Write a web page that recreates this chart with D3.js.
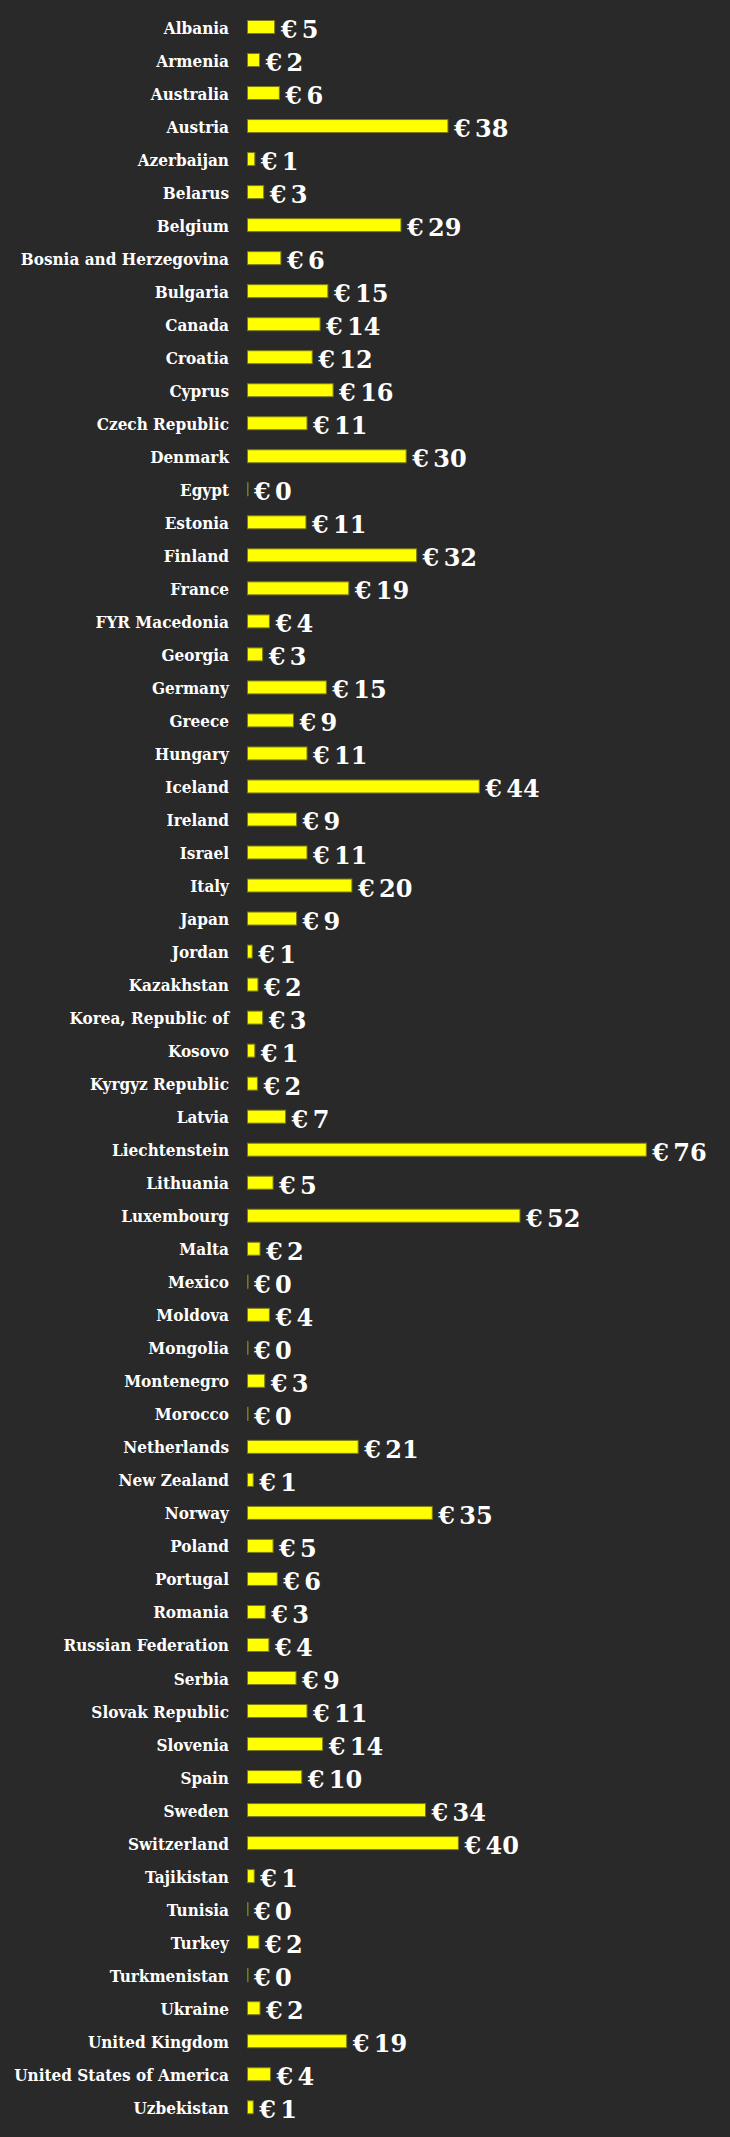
<!DOCTYPE html>
<html lang="en">

<head>
    <meta charset="UTF-8">
    <title>Cost per country</title>
    <script src="https://d3js.org/d3.v7.min.js"></script>
    <style>
        html, body {
            margin: 0;
            padding: 0;
            background-color: #292929;
        }

        .country {
            font-family: 'DejaVu Serif Condensed', 'DejaVu Serif', serif;
            font-weight: bold;
            font-size: 17px;
            fill: #ffffff;
        }

        .value {
            font-family: 'DejaVu Serif', serif;
            font-weight: bold;
            font-size: 24px;
            fill: #ffffff;
            word-spacing: -4px;
        }
    </style>
</head>

<body>
    <div id="chart"></div>

    <script>
        // countries, top to bottom
        const countries = [
            'Albania', 'Armenia', 'Australia', 'Austria', 'Azerbaijan', 'Belarus', 'Belgium',
            'Bosnia and Herzegovina', 'Bulgaria', 'Canada', 'Croatia', 'Cyprus', 'Czech Republic',
            'Denmark', 'Egypt', 'Estonia', 'Finland', 'France', 'FYR Macedonia', 'Georgia',
            'Germany', 'Greece', 'Hungary', 'Iceland', 'Ireland', 'Israel', 'Italy', 'Japan',
            'Jordan', 'Kazakhstan', 'Korea, Republic of', 'Kosovo', 'Kyrgyz Republic', 'Latvia',
            'Liechtenstein', 'Lithuania', 'Luxembourg', 'Malta', 'Mexico', 'Moldova', 'Mongolia',
            'Montenegro', 'Morocco', 'Netherlands', 'New Zealand', 'Norway', 'Poland', 'Portugal',
            'Romania', 'Russian Federation', 'Serbia', 'Slovak Republic', 'Slovenia', 'Spain',
            'Sweden', 'Switzerland', 'Tajikistan', 'Tunisia', 'Turkey', 'Turkmenistan', 'Ukraine',
            'United Kingdom', 'United States of America', 'Uzbekistan'
        ];

        // euros (labels show them rounded)
        const values = [
            5.2, 2.3, 6.1, 38.4, 1.4, 3.1, 29.4,
            6.4, 15.4, 13.9, 12.4, 16.4, 11.4,
            30.4, 0.1, 11.2, 32.4, 19.4, 4.2, 2.9,
            15.1, 8.8, 11.4, 44.4, 9.4, 11.4, 20.0, 9.4,
            0.9, 2.0, 2.9, 1.4, 1.9, 7.3,
            76.4, 4.9, 52.2, 2.4, 0.1, 4.2, 0.1,
            3.3, 0.1, 21.2, 1.1, 35.4, 4.9, 5.7,
            3.4, 4.1, 9.3, 11.4, 14.4, 10.4,
            34.1, 40.4, 1.3, 0.1, 2.2, 0.1, 2.4,
            19.0, 4.4, 1.1
        ];

        const width = 730;
        const height = 2137;
        const barLeft = 247.5;
        const labelRight = 229;
        const rowStep = 33.02;
        const firstRow = 27;

        const data = countries.map((c, i) => ({ country: c, value: values[i] }));

        const x = d3.scaleLinear()
            .domain([0, 76.4])
            .range([barLeft, barLeft + 398.8]);

        const pad = 1 - 13 / rowStep;
        const y = d3.scaleBand()
            .domain(countries)
            .range([firstRow - rowStep / 2, firstRow - rowStep / 2 + rowStep * countries.length])
            .paddingInner(pad)
            .paddingOuter(pad / 2);

        const svg = d3.select('#chart')
            .append('svg')
            .attr('width', width)
            .attr('height', height);

        svg.append('rect')
            .attr('width', width)
            .attr('height', height)
            .attr('fill', '#292929');

        const row = svg.selectAll('.row')
            .data(data)
            .enter()
            .append('g')
            .attr('class', 'row');

        row.append('rect')
            .attr('x', x(0))
            .attr('y', d => y(d.country))
            .attr('width', d => x(d.value) - x(0))
            .attr('height', y.bandwidth())
            .attr('fill', '#ffff00')
            .attr('stroke', '#7a7a14')
            .attr('stroke-width', 1);

        row.append('text')
            .attr('class', 'country')
            .attr('x', labelRight)
            .attr('y', d => y(d.country) + y.bandwidth())
            .attr('text-anchor', 'end')
            .text(d => d.country);

        row.append('text')
            .attr('class', 'value')
            .attr('x', d => x(d.value) + 6)
            .attr('y', d => y(d.country) + y.bandwidth() / 2 + 11)
            .text(d => '€ ' + Math.round(d.value));
    </script>

</body>

</html>
